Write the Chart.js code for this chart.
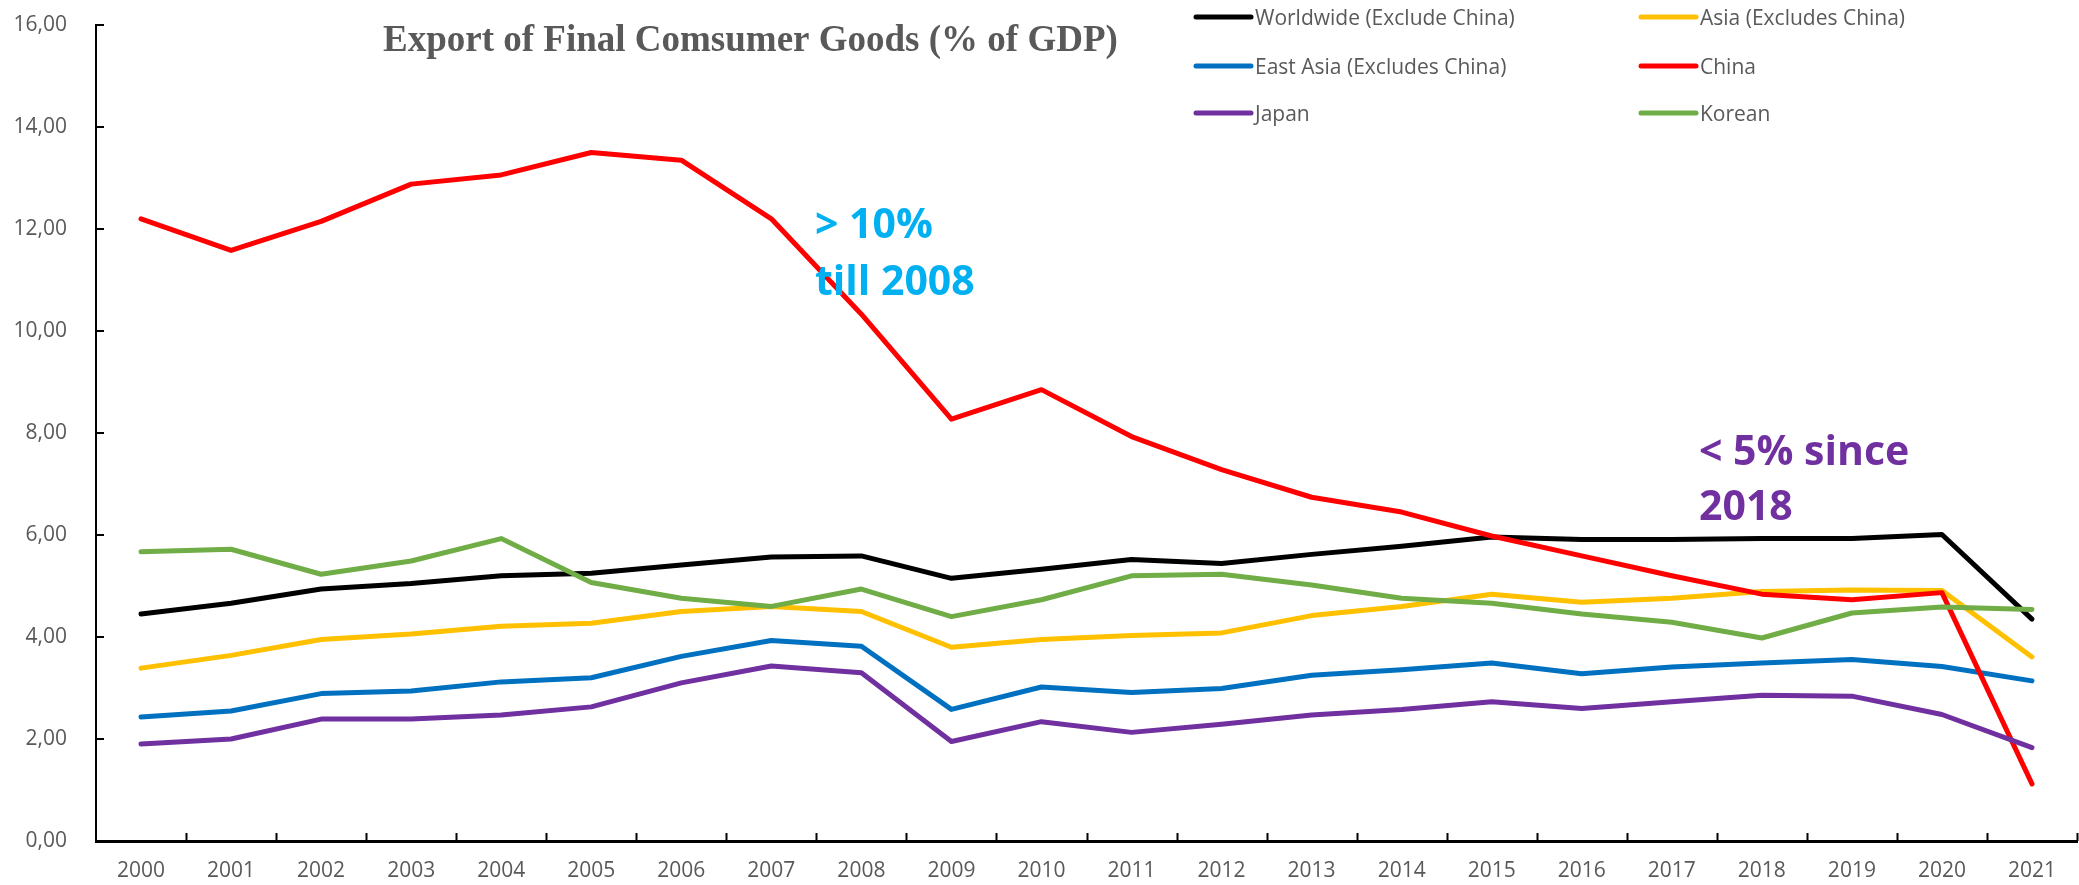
<!DOCTYPE html>
<html>
<head>
<meta charset="utf-8">
<script src="https://cdn.jsdelivr.net/npm/chart.js@4.4.1/dist/chart.umd.min.js"></script>
<style>
  html, body { margin: 0; padding: 0; background: #ffffff; }
  #wrap { width: 2079px; height: 885px; position: relative; }
</style>
</head>
<body>
<div id="wrap"><canvas id="c" width="2079" height="885"></canvas></div>
<script>
const years = ['2000','2001','2002','2003','2004','2005','2006','2007','2008','2009','2010',
               '2011','2012','2013','2014','2015','2016','2017','2018','2019','2020','2021'];

const worldwide = [4.45,4.66,4.94,5.05,5.20,5.25,5.41,5.57,5.59,5.15,5.33,5.52,5.44,5.62,5.78,5.96,5.91,5.91,5.93,5.93,6.01,4.35];
const asia      = [3.39,3.64,3.95,4.06,4.21,4.27,4.50,4.60,4.50,3.80,3.95,4.03,4.08,4.42,4.60,4.84,4.68,4.76,4.89,4.92,4.91,3.61];
const eastAsia  = [2.43,2.55,2.89,2.94,3.12,3.20,3.62,3.93,3.82,2.58,3.02,2.91,2.99,3.25,3.36,3.49,3.28,3.41,3.49,3.56,3.42,3.14];
const china     = [12.20,11.58,12.15,12.88,13.06,13.50,13.35,12.20,10.33,8.27,8.85,7.93,7.28,6.74,6.45,5.98,5.59,5.20,4.84,4.73,4.87,1.12];
const japan     = [1.90,2.00,2.39,2.39,2.47,2.63,3.10,3.43,3.30,1.95,2.34,2.13,2.29,2.47,2.58,2.73,2.60,2.73,2.86,2.84,2.48,1.83];
const korean    = [5.67,5.72,5.23,5.49,5.93,5.07,4.76,4.60,4.94,4.40,4.73,5.20,5.23,5.02,4.76,4.66,4.45,4.29,3.98,4.47,4.59,4.54];

const seriesNames  = ['Worldwide (Exclude China)','Asia (Excludes China)','East Asia (Excludes China)','China','Japan','Korean'];
const seriesColors = ['#000000','#FFC000','#0070C0','#FF0000','#7030A0','#70AD47'];
const seriesData   = [worldwide, asia, eastAsia, china, japan, korean];

const titleText = 'Export of Final Comsumer Goods (% of GDP)';
const note1 = ['> 10%', 'till 2008'];
const note2 = ['< 5% since', '2018'];

const yMin = 0, yMax = 16, yStep = 2;

const datasets = seriesData.map((d, i) => ({
  label: seriesNames[i],
  data: d,
  borderColor: seriesColors[i],
  backgroundColor: seriesColors[i],
  borderWidth: 5,
  pointRadius: 0,
  pointHoverRadius: 0,
  tension: 0,
  fill: false,
  borderCapStyle: 'round',
  borderJoinStyle: 'round',
  order: seriesData.length - i
}));

const decorPlugin = {
  id: 'decor',
  afterDraw(chart) {
    const ctx = chart.ctx;
    const xs = chart.scales.x, ys = chart.scales.y;
    const area = chart.chartArea;
    ctx.save();
    // inside tick marks
    ctx.strokeStyle = '#000000';
    ctx.lineWidth = 2;
    ctx.beginPath();
    for (let i = 1; i <= years.length; i++) {
      const px = Math.round(xs.getPixelForValue(i - 0.5)) + 0.5;
      ctx.moveTo(px, area.bottom);
      ctx.lineTo(px, area.bottom - 8);
    }
    ys.ticks.forEach(t => {
      if (t.value === yMin) return;
      const py = Math.round(ys.getPixelForValue(t.value));
      ctx.moveTo(area.left, py);
      ctx.lineTo(area.left + 8, py);
    });
    ctx.stroke();

    // title
    ctx.fillStyle = '#595959';
    ctx.font = 'bold 37px "Liberation Serif", "Times New Roman", serif';
    ctx.textAlign = 'left';
    ctx.textBaseline = 'alphabetic';
    ctx.fillText(titleText, 383, 51);

    // legend
    const colX = [1196, 1641];
    const rowY = [17, 66, 113];
    ctx.font = '21px "Open Sans", sans-serif';
    seriesNames.forEach((name, i) => {
      const cx = colX[i % 2], cy = rowY[Math.floor(i / 2)];
      ctx.strokeStyle = seriesColors[i];
      ctx.lineWidth = 5;
      ctx.lineCap = 'round';
      ctx.beginPath();
      ctx.moveTo(cx, cy);
      ctx.lineTo(cx + 55, cy);
      ctx.stroke();
      ctx.fillStyle = '#595959';
      ctx.fillText(name, cx + 59, cy + 8);
    });

    // annotations
    ctx.font = 'bold 41px "Open Sans", sans-serif';
    ctx.fillStyle = '#00B0F0';
    ctx.fillText(note1[0], 815, 238);
    ctx.fillText(note1[1], 815, 295);
    ctx.fillStyle = '#7030A0';
    ctx.fillText(note2[0], 1699, 465);
    ctx.fillText(note2[1], 1699, 520);
    ctx.restore();
  }
};

new Chart(document.getElementById('c'), {
  type: 'line',
  data: { labels: years, datasets },
  options: {
    responsive: false,
    devicePixelRatio: 1,
    animation: false,
    layout: { padding: { top: 25, right: 2, left: 0, bottom: 0 } },
    plugins: { legend: { display: false }, title: { display: false }, tooltip: { enabled: false } },
    scales: {
      x: {
        type: 'category',
        offset: true,
        grid: { display: false, drawTicks: false },
        border: { display: true, color: '#000000', width: 3 },
        ticks: { color: '#595959', font: { family: '"Open Sans", sans-serif', size: 21 }, padding: 17, maxRotation: 0, autoSkip: false },
        afterFit(scale) { scale.height = 44; }
      },
      y: {
        min: yMin, max: yMax,
        grid: { display: false, drawTicks: false },
        border: { display: true, color: '#000000', width: 2 },
        ticks: {
          stepSize: yStep,
          color: '#595959',
          font: { family: '"Open Sans", sans-serif', size: 21 },
          padding: 29,
          callback: v => Number(v).toFixed(2).replace('.', ',')
        },
        afterFit(scale) { scale.width = 96; scale.paddingTop = 0; scale.paddingBottom = 0; }
      }
    }
  },
  plugins: [decorPlugin]
});
</script>
</body>
</html>
